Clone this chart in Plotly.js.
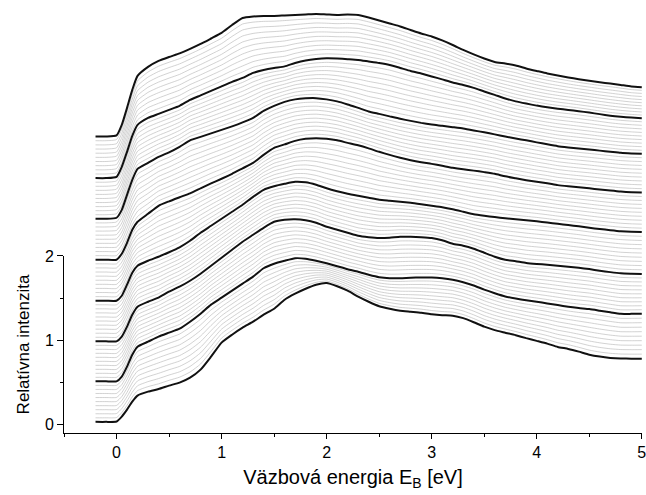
<!DOCTYPE html>
<html>
<head>
<meta charset="utf-8">
<script src="https://cdn.plot.ly/plotly-3.0.1.min.js"></script>
<style>html,body{margin:0;padding:0;background:#fff;}#chart{width:646px;height:495px;}</style>
</head>
<body>
<div id="chart"></div>
<script>
// Binding energy axis (eV)
const energy = [-0.2,-0.1,0,0.05,0.1,0.15,0.2,0.3,0.4,0.5,0.6,0.7,0.8,0.9,1.0,1.1,1.2,1.3,1.4,1.5,1.6,1.7,1.8,1.9,2.0,2.1,2.2,2.3,2.4,2.5,2.6,2.7,2.8,2.9,3.0,3.1,3.2,3.3,3.4,3.5,3.6,3.7,3.8,3.9,4.0,4.1,4.2,4.3,4.4,4.5,4.6,4.7,4.8,4.9,5.0];

// Highlighted (thick) spectra, bottom to top, as displayed (with vertical offset)
const spec0 = [0.032,0.032,0.036,0.095,0.178,0.273,0.344,
  0.391,0.421,0.462,0.498,0.557,0.652,0.806,0.972,1.066,1.149,
  1.220,1.303,1.374,1.481,1.552,1.611,1.659,1.679,1.641,1.588,
  1.517,1.457,1.404,1.374,1.351,1.339,1.327,1.309,1.297,1.291,
  1.262,1.214,1.161,1.120,1.090,1.060,1.025,0.993,0.960,0.921,
  0.897,0.865,0.829,0.806,0.791,0.784,0.782,0.782];
const spec1 = [0.513,0.513,0.513,0.569,0.687,0.829,0.924,
  0.983,1.043,1.090,1.137,1.220,1.315,1.422,1.505,1.588,1.671,
  1.754,1.854,1.908,1.943,1.973,1.967,1.943,1.913,1.878,1.842,
  1.813,1.777,1.748,1.736,1.736,1.742,1.745,1.745,1.736,1.718,
  1.688,1.650,1.600,1.558,1.520,1.495,1.474,1.456,1.437,1.417,
  1.397,1.382,1.370,1.351,1.331,1.313,1.313,1.315];
const spec2 = [0.987,0.987,0.987,1.043,1.161,1.303,1.398,
  1.457,1.505,1.576,1.635,1.706,1.789,1.884,1.979,2.073,2.168,
  2.251,2.334,2.405,2.429,2.435,2.423,2.393,2.346,2.310,2.275,
  2.239,2.222,2.212,2.216,2.227,2.227,2.222,2.212,2.186,2.145,
  2.121,2.085,2.038,1.991,1.955,1.937,1.917,1.905,1.896,1.884,
  1.872,1.859,1.844,1.825,1.808,1.794,1.789,1.786];
const spec3 = [1.469,1.469,1.469,1.528,1.659,1.801,1.884,
  1.943,1.991,2.044,2.103,2.180,2.275,2.358,2.441,2.524,2.607,
  2.701,2.784,2.826,2.855,2.879,2.873,2.844,2.802,2.767,2.737,
  2.713,2.690,2.666,2.654,2.642,2.630,2.613,2.595,2.577,2.553,
  2.524,2.494,2.476,2.461,2.447,2.434,2.422,2.410,2.396,2.381,
  2.366,2.351,2.334,2.319,2.306,2.294,2.287,2.283];
const spec4 = [1.955,1.955,1.955,2.026,2.156,2.310,2.405,
  2.500,2.595,2.648,2.696,2.743,2.802,2.861,2.915,2.974,3.039,
  3.104,3.199,3.282,3.323,3.365,3.389,3.397,3.389,3.371,3.341,
  3.312,3.276,3.235,3.199,3.164,3.134,3.110,3.092,3.069,3.045,
  3.027,3.012,2.994,2.974,2.944,2.921,2.899,2.879,2.861,2.840,
  2.826,2.814,2.802,2.788,2.775,2.763,2.756,2.752];
const spec5 = [2.441,2.441,2.453,2.547,2.725,2.903,3.033,
  3.104,3.175,3.229,3.294,3.371,3.412,3.454,3.495,3.537,3.584,
  3.637,3.720,3.780,3.827,3.857,3.869,3.871,3.857,3.833,3.797,
  3.756,3.714,3.685,3.655,3.626,3.602,3.578,3.558,3.543,3.527,
  3.511,3.489,3.466,3.442,3.416,3.392,3.371,3.347,3.324,3.302,
  3.287,3.274,3.262,3.249,3.236,3.223,3.216,3.211];
const spec6 = [2.923,2.923,2.938,3.057,3.235,3.424,3.555,
  3.638,3.685,3.732,3.780,3.851,3.904,3.957,4.011,4.064,4.111,
  4.171,4.206,4.230,4.248,4.289,4.319,4.336,4.345,4.342,4.334,
  4.325,4.307,4.289,4.265,4.230,4.194,4.164,4.129,4.094,4.058,
  4.028,3.993,3.951,3.910,3.868,3.833,3.807,3.783,3.763,3.746,
  3.732,3.717,3.700,3.682,3.664,3.651,3.642,3.634];
const spec7 = [3.416,3.416,3.430,3.555,3.756,3.969,4.135,
  4.242,4.313,4.360,4.402,4.455,4.514,4.579,4.645,4.739,4.822,
  4.840,4.846,4.846,4.852,4.858,4.864,4.870,4.864,4.858,4.864,
  4.858,4.828,4.793,4.757,4.722,4.680,4.639,4.603,4.556,4.502,
  4.443,4.390,4.342,4.301,4.283,4.259,4.224,4.194,4.165,4.141,
  4.117,4.096,4.078,4.060,4.045,4.028,4.010,4.001];

const thickSpectra = [spec0,spec1,spec2,spec3,spec4,spec5,spec6,spec7];
const stepsBetween = 10;   // thin spectra drawn between successive thick ones

const yTickVals = [0,1,2];
const yTickText = ['0','1','2'];
const xTickVals = [0,1,2,3,4,5];
const xTickText = ['0','1','2','3','4','5'];

const traces = [];
// thin intermediate spectra (evenly stepped between the highlighted ones, as in the figure)
for (let k = 0; k < thickSpectra.length - 1; k++) {
  const a = thickSpectra[k], b = thickSpectra[k+1];
  for (let j = 1; j < stepsBetween; j++) {
    const t = j / stepsBetween;
    traces.push({
      x: energy, y: a.map((v,i) => v + (b[i]-v)*t),
      xaxis: 'x', yaxis: 'y2', mode: 'lines', type: 'scatter',
      line: {color: '#b4b4b4', width: 0.6, shape: 'spline', smoothing: 0.5},
      hoverinfo: 'skip', showlegend: false
    });
  }
}
thickSpectra.forEach((s) => {
  traces.push({
    x: energy, y: s, xaxis: 'x', yaxis: 'y2', mode: 'lines', type: 'scatter',
    line: {color: '#111111', width: 2, shape: 'spline', smoothing: 0.5},
    showlegend: false
  });
});
// invisible trace to activate the visible left axis
traces.push({x: [0], y: [0], xaxis: 'x', yaxis: 'y', mode: 'markers',
  marker: {opacity: 0}, hoverinfo: 'skip', showlegend: false});

const font = {family: 'Liberation Sans, Arial, sans-serif', color: '#000'};
const layout = {
  width: 646, height: 495,
  margin: {l: 64, r: 4, t: 3, b: 62},
  paper_bgcolor: '#fff', plot_bgcolor: '#fff',
  font: Object.assign({size: 16}, font),
  showlegend: false,
  xaxis: {
    range: [-0.5, 5.002], tickvals: xTickVals, ticktext: xTickText,
    ticks: 'outside', ticklen: 5, tickwidth: 1, tickcolor: '#000',
    ticklabeloverflow: 'allow',
    showline: true, linecolor: '#000', linewidth: 1,
    showgrid: false, zeroline: false, anchor: 'y',
    minor: {dtick: 0.5, tick0: 0, ticks: 'outside', ticklen: 3, tickcolor: '#000', tickwidth: 1},
    tickfont: Object.assign({size: 16}, font),
    title: {text: 'Väzbová energia E<sub>B</sub> [eV]', font: Object.assign({size: 20}, font), standoff: 9}
  },
  yaxis: {
    domain: [0, 2.1/5.1], range: [-0.1, 2.0],
    tickvals: yTickVals, ticktext: yTickText,
    ticks: 'outside', ticklen: 6, tickwidth: 1, tickcolor: '#000',
    showline: true, linecolor: '#000', linewidth: 1,
    showgrid: false, zeroline: false, anchor: 'x',
    minor: {dtick: 0.5, tick0: 0, ticks: 'outside', ticklen: 3, tickcolor: '#000', tickwidth: 1},
    tickfont: Object.assign({size: 16}, font),
    title: {text: 'Relatívna intenzita', font: Object.assign({size: 17}, font), standoff: 10}
  },
  yaxis2: {
    domain: [0, 1], range: [-0.1, 5.0], anchor: 'x',
    visible: false, showgrid: false, zeroline: false
  }
};

Plotly.newPlot('chart', traces, layout, {staticPlot: true, displayModeBar: false});
</script>
</body>
</html>
